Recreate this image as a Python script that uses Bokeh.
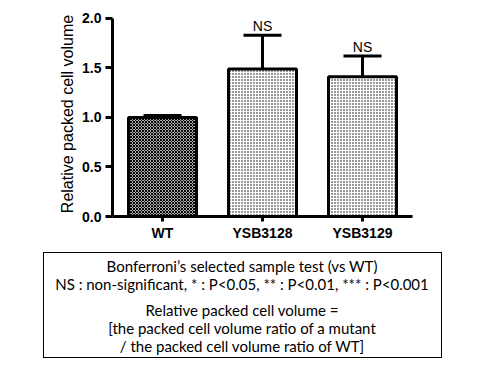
from bokeh.plotting import figure
from bokeh.models import (ColumnDataSource, Whisker, NumeralTickFormatter, FixedTicker, Div)
from bokeh.layouts import column
from bokeh.embed import file_html
from bokeh.resources import INLINE
from bokeh.core.properties import value

strains = ["WT", "YSB3128", "YSB3129"]
means = [1.0, 1.49, 1.41]
errors = [0.02, 0.34, 0.21]
sig_labels = ["", "NS", "NS"]
hatches = ["x", ".", "."]
y_ticks = [0.0, 0.5, 1.0, 1.5, 2.0]

note_lines = [
    "Bonferroni\u2019s selected sample test (vs WT)",
    "NS : non-significant, * : P&lt;0.05, ** : P&lt;0.01, *** : P&lt;0.001",
    "Relative packed cell volume =",
    "[the packed cell volume ratio of a mutant",
    "/ the packed cell volume ratio of WT]",
]

upper = [m + e for m, e in zip(means, errors)]
src = ColumnDataSource(dict(x=strains, top=means, upper=upper, sig=sig_labels, hatch=hatches))

FONT = "Liberation Sans"

p = figure(x_range=strains, y_range=(0, 2.07), width=464, height=243,
           output_backend="svg", toolbar_location=None,
           min_border_left=112, min_border_right=52, min_border_top=11, min_border_bottom=25)
p.outline_line_color = None
p.xgrid.visible = False
p.ygrid.visible = False
p.x_range.range_padding = 0

p.vbar(x="x", top="top", width=0.68, source=src, fill_color="white",
       line_color="black", line_width=3, hatch_pattern="hatch",
       hatch_color="black", hatch_scale=3, hatch_weight=1.2)

w = Whisker(base="x", upper="upper", lower="top", source=src, dimension="height",
            line_width=3, line_color="black")
w.upper_head.size = 38
w.upper_head.line_width = 3
w.lower_head = None
p.add_layout(w)

p.text(x="x", y="upper", text="sig", source=src, text_align="center",
       text_baseline="alphabetic", y_offset=-9, text_font=value(FONT),
       text_font_size="14px", text_color="black")

for ax in (p.xaxis[0], p.yaxis[0]):
    ax.axis_line_width = 3
    ax.axis_line_color = "black"
    ax.major_tick_line_width = 3
    ax.major_tick_in = 0
    ax.minor_tick_line_color = None
    ax.major_label_text_font = FONT
    ax.major_label_text_font_style = "bold"
    ax.major_label_text_font_size = "14px"
    ax.major_label_text_color = "black"

p.xaxis.major_tick_out = 5
p.xaxis.major_label_standoff = 3
p.yaxis.bounds = (0, 2.0)
p.yaxis.major_tick_out = 7
p.yaxis.major_label_standoff = 4
p.yaxis.ticker = FixedTicker(ticks=y_ticks)
p.yaxis.formatter = NumeralTickFormatter(format="0.0")
p.yaxis.axis_label = "Relative packed cell volume"
p.yaxis.axis_label_text_font = FONT
p.yaxis.axis_label_text_font_style = "normal"
p.yaxis.axis_label_text_font_size = "16px"
p.yaxis.axis_label_text_color = "black"
p.yaxis.axis_label_standoff = 3

# Note box below the chart
line_tops = [9, 27, 53, 71, 89]
parts = ['<div style="position:relative;width:464px;height:111px;">',
         '<div style="position:absolute;left:38px;top:4px;width:399px;height:106px;'
         'border:1px solid #000;box-sizing:border-box;"></div>']
for txt, t in zip(note_lines, line_tops):
    parts.append('<div style="position:absolute;left:37px;width:400px;top:%dpx;'
                 'text-align:center;font-family:Lato;font-size:15px;line-height:18px;'
                 'color:#000;white-space:nowrap;">%s</div>' % (t, txt))
parts.append('</div>')
note = Div(text="".join(parts), width=464, height=111)

layout = column(p, note, spacing=0)
open("out.html", "w").write(file_html(layout, INLINE))
